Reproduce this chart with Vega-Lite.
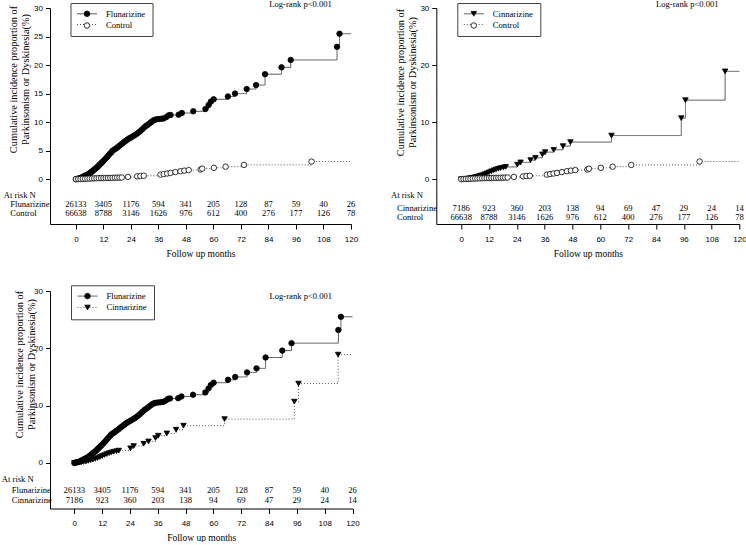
{
  "$schema": "https://vega.github.io/schema/vega-lite/v6.json",
  "background": "white",
  "padding": {"left": 1, "top": 0, "right": 0, "bottom": 0},
  "config": {
    "view": {"stroke": null},
    "axis": {
      "grid": false,
      "domainColor": "black",
      "tickColor": "black",
      "labelColor": "black",
      "titleColor": "black",
      "labelFont": "Liberation Sans",
      "labelFontSize": 8,
      "titleFont": "Liberation Serif",
      "titleFontWeight": "normal",
      "labelFlush": false,
      "labelOverlap": false,
      "domainWidth": 1,
      "tickWidth": 1
    },
    "axisX": {"tickSize": 5, "labelPadding": 6, "titleFontSize": 9.5, "titlePadding": 5},
    "axisY": {"tickSize": 4.5, "labelPadding": 3, "titleFontSize": 10.3, "titleLineHeight": 12, "titleBaseline": "middle", "titleAlign": "center", "titleAngle": -90}
  },
  "datasets": {
    "curves": [
      {"group": "Flunarizine", "month": 0, "value": 0},
      {"group": "Flunarizine", "month": 0.5, "value": 0.05},
      {"group": "Flunarizine", "month": 1, "value": 0.1},
      {"group": "Flunarizine", "month": 1.5, "value": 0.15},
      {"group": "Flunarizine", "month": 2, "value": 0.2},
      {"group": "Flunarizine", "month": 2.5, "value": 0.3},
      {"group": "Flunarizine", "month": 3, "value": 0.4},
      {"group": "Flunarizine", "month": 3.5, "value": 0.5},
      {"group": "Flunarizine", "month": 4, "value": 0.6},
      {"group": "Flunarizine", "month": 4.5, "value": 0.7},
      {"group": "Flunarizine", "month": 5, "value": 0.8},
      {"group": "Flunarizine", "month": 5.5, "value": 0.9},
      {"group": "Flunarizine", "month": 6, "value": 1.05},
      {"group": "Flunarizine", "month": 6.5, "value": 1.2},
      {"group": "Flunarizine", "month": 7, "value": 1.35},
      {"group": "Flunarizine", "month": 7.5, "value": 1.5},
      {"group": "Flunarizine", "month": 8, "value": 1.7},
      {"group": "Flunarizine", "month": 8.5, "value": 1.85},
      {"group": "Flunarizine", "month": 9, "value": 2.0},
      {"group": "Flunarizine", "month": 9.5, "value": 2.2},
      {"group": "Flunarizine", "month": 10, "value": 2.4},
      {"group": "Flunarizine", "month": 10.5, "value": 2.6},
      {"group": "Flunarizine", "month": 11, "value": 2.8},
      {"group": "Flunarizine", "month": 11.5, "value": 3.0},
      {"group": "Flunarizine", "month": 12, "value": 3.2},
      {"group": "Flunarizine", "month": 12.7, "value": 3.5},
      {"group": "Flunarizine", "month": 13.4, "value": 3.8},
      {"group": "Flunarizine", "month": 14, "value": 4.1},
      {"group": "Flunarizine", "month": 14.7, "value": 4.4},
      {"group": "Flunarizine", "month": 15.4, "value": 4.7},
      {"group": "Flunarizine", "month": 16, "value": 5.0},
      {"group": "Flunarizine", "month": 16.8, "value": 5.2},
      {"group": "Flunarizine", "month": 17.5, "value": 5.4},
      {"group": "Flunarizine", "month": 18.2, "value": 5.6},
      {"group": "Flunarizine", "month": 19, "value": 5.85},
      {"group": "Flunarizine", "month": 19.7, "value": 6.1},
      {"group": "Flunarizine", "month": 20.4, "value": 6.3},
      {"group": "Flunarizine", "month": 21.1, "value": 6.55},
      {"group": "Flunarizine", "month": 21.8, "value": 6.75},
      {"group": "Flunarizine", "month": 22.5, "value": 6.95},
      {"group": "Flunarizine", "month": 23.2, "value": 7.15},
      {"group": "Flunarizine", "month": 24, "value": 7.3},
      {"group": "Flunarizine", "month": 24.8, "value": 7.5},
      {"group": "Flunarizine", "month": 25.6, "value": 7.7},
      {"group": "Flunarizine", "month": 26.4, "value": 7.9},
      {"group": "Flunarizine", "month": 27.2, "value": 8.15},
      {"group": "Flunarizine", "month": 28, "value": 8.4},
      {"group": "Flunarizine", "month": 28.8, "value": 8.7},
      {"group": "Flunarizine", "month": 29.6, "value": 9.0},
      {"group": "Flunarizine", "month": 30.4, "value": 9.3},
      {"group": "Flunarizine", "month": 31.2, "value": 9.5},
      {"group": "Flunarizine", "month": 32, "value": 9.75},
      {"group": "Flunarizine", "month": 32.8, "value": 10.0},
      {"group": "Flunarizine", "month": 33.6, "value": 10.25},
      {"group": "Flunarizine", "month": 34.4, "value": 10.4},
      {"group": "Flunarizine", "month": 35.2, "value": 10.5},
      {"group": "Flunarizine", "month": 36.2, "value": 10.55},
      {"group": "Flunarizine", "month": 37.3, "value": 10.6},
      {"group": "Flunarizine", "month": 38.3, "value": 10.65},
      {"group": "Flunarizine", "month": 39.5, "value": 10.9},
      {"group": "Flunarizine", "month": 40.5, "value": 11.2},
      {"group": "Flunarizine", "month": 41.3, "value": 11.25},
      {"group": "Flunarizine", "month": 44.8, "value": 11.3},
      {"group": "Flunarizine", "month": 46.2, "value": 11.6},
      {"group": "Flunarizine", "month": 51.2, "value": 11.9},
      {"group": "Flunarizine", "month": 56.5, "value": 12.3},
      {"group": "Flunarizine", "month": 57.9, "value": 13.0},
      {"group": "Flunarizine", "month": 58.9, "value": 13.6},
      {"group": "Flunarizine", "month": 60.1, "value": 14.0},
      {"group": "Flunarizine", "month": 66.3, "value": 14.5},
      {"group": "Flunarizine", "month": 69.4, "value": 15.0},
      {"group": "Flunarizine", "month": 74.5, "value": 15.8},
      {"group": "Flunarizine", "month": 78.6, "value": 16.5},
      {"group": "Flunarizine", "month": 82.5, "value": 18.4},
      {"group": "Flunarizine", "month": 89.7, "value": 19.6},
      {"group": "Flunarizine", "month": 93.7, "value": 20.9},
      {"group": "Flunarizine", "month": 113.9, "value": 23.2},
      {"group": "Flunarizine", "month": 115, "value": 25.5},
      {"group": "Flunarizine", "month": 120, "value": 25.5},
      {"group": "Cinnarizine", "month": 0, "value": 0},
      {"group": "Cinnarizine", "month": 1, "value": 0.03},
      {"group": "Cinnarizine", "month": 2, "value": 0.07},
      {"group": "Cinnarizine", "month": 3, "value": 0.12},
      {"group": "Cinnarizine", "month": 4, "value": 0.18},
      {"group": "Cinnarizine", "month": 5, "value": 0.25},
      {"group": "Cinnarizine", "month": 6, "value": 0.35},
      {"group": "Cinnarizine", "month": 7, "value": 0.45},
      {"group": "Cinnarizine", "month": 8, "value": 0.57},
      {"group": "Cinnarizine", "month": 9, "value": 0.7},
      {"group": "Cinnarizine", "month": 10, "value": 0.85},
      {"group": "Cinnarizine", "month": 11, "value": 1.02},
      {"group": "Cinnarizine", "month": 12, "value": 1.2},
      {"group": "Cinnarizine", "month": 13, "value": 1.38},
      {"group": "Cinnarizine", "month": 14, "value": 1.55},
      {"group": "Cinnarizine", "month": 15, "value": 1.7},
      {"group": "Cinnarizine", "month": 16, "value": 1.82},
      {"group": "Cinnarizine", "month": 17, "value": 1.95},
      {"group": "Cinnarizine", "month": 18.2, "value": 2.05},
      {"group": "Cinnarizine", "month": 19.2, "value": 2.15},
      {"group": "Cinnarizine", "month": 24.2, "value": 2.55},
      {"group": "Cinnarizine", "month": 25.6, "value": 2.95},
      {"group": "Cinnarizine", "month": 29.9, "value": 3.35},
      {"group": "Cinnarizine", "month": 32.0, "value": 3.75},
      {"group": "Cinnarizine", "month": 35.0, "value": 4.35},
      {"group": "Cinnarizine", "month": 36.2, "value": 4.75},
      {"group": "Cinnarizine", "month": 39.9, "value": 5.15},
      {"group": "Cinnarizine", "month": 43.9, "value": 5.8},
      {"group": "Cinnarizine", "month": 47.1, "value": 6.5},
      {"group": "Cinnarizine", "month": 64.8, "value": 7.65},
      {"group": "Cinnarizine", "month": 94.9, "value": 10.7},
      {"group": "Cinnarizine", "month": 96.7, "value": 13.85},
      {"group": "Cinnarizine", "month": 113.8, "value": 18.9},
      {"group": "Cinnarizine", "month": 120, "value": 18.9},
      {"group": "Control", "month": 0, "value": 0},
      {"group": "Control", "month": 1, "value": 0.02},
      {"group": "Control", "month": 2, "value": 0.04},
      {"group": "Control", "month": 3, "value": 0.06},
      {"group": "Control", "month": 4, "value": 0.08},
      {"group": "Control", "month": 5, "value": 0.1},
      {"group": "Control", "month": 6, "value": 0.12},
      {"group": "Control", "month": 7, "value": 0.13},
      {"group": "Control", "month": 8, "value": 0.15},
      {"group": "Control", "month": 9, "value": 0.16},
      {"group": "Control", "month": 10, "value": 0.18},
      {"group": "Control", "month": 11, "value": 0.19},
      {"group": "Control", "month": 12, "value": 0.2},
      {"group": "Control", "month": 13, "value": 0.21},
      {"group": "Control", "month": 14, "value": 0.22},
      {"group": "Control", "month": 15, "value": 0.23},
      {"group": "Control", "month": 16, "value": 0.24},
      {"group": "Control", "month": 17, "value": 0.26},
      {"group": "Control", "month": 18, "value": 0.27},
      {"group": "Control", "month": 19, "value": 0.28},
      {"group": "Control", "month": 20, "value": 0.3},
      {"group": "Control", "month": 22.7, "value": 0.4},
      {"group": "Control", "month": 26.7, "value": 0.5},
      {"group": "Control", "month": 28.1, "value": 0.55},
      {"group": "Control", "month": 29.6, "value": 0.6},
      {"group": "Control", "month": 36.9, "value": 0.8},
      {"group": "Control", "month": 38.3, "value": 0.9},
      {"group": "Control", "month": 39.8, "value": 1.0},
      {"group": "Control", "month": 41.3, "value": 1.1},
      {"group": "Control", "month": 43.4, "value": 1.25},
      {"group": "Control", "month": 45.6, "value": 1.4},
      {"group": "Control", "month": 47.3, "value": 1.5},
      {"group": "Control", "month": 49.2, "value": 1.6},
      {"group": "Control", "month": 54.4, "value": 1.7},
      {"group": "Control", "month": 55.1, "value": 1.85},
      {"group": "Control", "month": 60.2, "value": 2.0},
      {"group": "Control", "month": 65.3, "value": 2.2},
      {"group": "Control", "month": 73.3, "value": 2.5},
      {"group": "Control", "month": 102.8, "value": 3.1},
      {"group": "Control", "month": 120, "value": 3.1}
    ],
    "atrisk": [
      {"group": "Flunarizine", "month": 0, "n": 26133},
      {"group": "Flunarizine", "month": 12, "n": 3405},
      {"group": "Flunarizine", "month": 24, "n": 1176},
      {"group": "Flunarizine", "month": 36, "n": 594},
      {"group": "Flunarizine", "month": 48, "n": 341},
      {"group": "Flunarizine", "month": 60, "n": 205},
      {"group": "Flunarizine", "month": 72, "n": 128},
      {"group": "Flunarizine", "month": 84, "n": 87},
      {"group": "Flunarizine", "month": 96, "n": 59},
      {"group": "Flunarizine", "month": 108, "n": 40},
      {"group": "Flunarizine", "month": 120, "n": 26},
      {"group": "Cinnarizine", "month": 0, "n": 7186},
      {"group": "Cinnarizine", "month": 12, "n": 923},
      {"group": "Cinnarizine", "month": 24, "n": 360},
      {"group": "Cinnarizine", "month": 36, "n": 203},
      {"group": "Cinnarizine", "month": 48, "n": 138},
      {"group": "Cinnarizine", "month": 60, "n": 94},
      {"group": "Cinnarizine", "month": 72, "n": 69},
      {"group": "Cinnarizine", "month": 84, "n": 47},
      {"group": "Cinnarizine", "month": 96, "n": 29},
      {"group": "Cinnarizine", "month": 108, "n": 24},
      {"group": "Cinnarizine", "month": 120, "n": 14},
      {"group": "Control", "month": 0, "n": 66638},
      {"group": "Control", "month": 12, "n": 8788},
      {"group": "Control", "month": 24, "n": 3146},
      {"group": "Control", "month": 36, "n": 1626},
      {"group": "Control", "month": 48, "n": 976},
      {"group": "Control", "month": 60, "n": 612},
      {"group": "Control", "month": 72, "n": 400},
      {"group": "Control", "month": 84, "n": 276},
      {"group": "Control", "month": 96, "n": 177},
      {"group": "Control", "month": 108, "n": 126},
      {"group": "Control", "month": 120, "n": 78}
    ]
  },
  "columns": 2,
  "align": "each",
  "bounds": "flush",
  "spacing": {"row": 67, "column": 83.3},
  "resolve": {
    "scale": {"shape": "independent", "fill": "independent", "stroke": "independent", "strokeDash": "independent"},
    "legend": {"shape": "independent", "fill": "independent", "stroke": "independent", "strokeDash": "independent"}
  },
  "concat": [
    {
      "width": 301,
      "height": 216,
      "layer": [
        {
          "data": {"name": "curves"},
          "transform": [{"filter": {"field": "group", "oneOf": ["Flunarizine", "Control"]}}],
          "mark": {"type": "line", "interpolate": "step-after", "stroke": "#555", "strokeWidth": 1},
          "encoding": {
            "x": {"field": "month", "type": "quantitative", "scale": {"domain": [-11.3, 120], "nice": false, "zero": false},
                  "axis": {"values": [0, 12, 24, 36, 48, 60, 72, 84, 96, 108, 120], "tickCount": 50, "labelOverlap": false, "title": "Follow up months"}},
            "y": {"field": "value", "type": "quantitative", "scale": {"domain": [-7.85, 30], "nice": false, "zero": false},
                  "axis": {"values": [0, 5, 10, 15, 20, 25, 30], "tickCount": 50, "labelOverlap": false, "title": ["Cumulative incidence proportion of", "Parkinsonism or Dyskinesia(%)"], "titleX": -37, "titleY": 71}},
            "strokeDash": {"field": "group", "type": "nominal", "sort": "descending", "scale": {"range": [[1, 0], [1, 2]]},
              "legend": {"title": null, "orient": "none", "legendX": 20.5, "legendY": -5, "padding": 6.5, "strokeColor": "#444", "symbolType": "M-4,0L4,0", "symbolSize": 25, "symbolStrokeWidth": 1, "symbolStrokeColor": "#555", "symbolOffset": 5.7, "labelOffset": 14.7, "labelFont": "Liberation Serif", "labelFontSize": 8.6, "labelColor": "black", "rowPadding": 1.7}}
          }
        },
        {
          "data": {"name": "curves"},
          "transform": [{"filter": {"field": "group", "oneOf": ["Flunarizine", "Control"]}}, {"filter": "datum.month < 120"}],
          "mark": {"type": "point", "filled": true, "strokeWidth": 0.8, "size": 30, "opacity": 1},
          "encoding": {
            "x": {"field": "month", "type": "quantitative"},
            "y": {"field": "value", "type": "quantitative"},
            "shape": {"field": "group", "type": "nominal", "scale": {"domain": ["Flunarizine", "Control"], "range": ["circle", "circle"]},
              "legend": {"title": null, "orient": "none", "legendX": 20.5, "legendY": -5, "padding": 6.5, "symbolSize": 30, "symbolStrokeWidth": 0.8, "symbolOffset": 5.7, "labelOffset": 14.7, "labelFont": "Liberation Serif", "labelFontSize": 8.6, "labelOpacity": 0, "rowPadding": 1.7}},
            "fill": {"field": "group", "type": "nominal", "scale": {"domain": ["Flunarizine", "Control"], "range": ["black", "white"]},
              "legend": {"title": null, "orient": "none", "legendX": 20.5, "legendY": -5, "padding": 6.5, "symbolSize": 30, "symbolStrokeWidth": 0.8, "symbolOffset": 5.7, "labelOffset": 14.7, "labelFont": "Liberation Serif", "labelFontSize": 8.6, "labelOpacity": 0, "rowPadding": 1.7}},
            "stroke": {"field": "group", "type": "nominal", "scale": {"domain": ["Flunarizine", "Control"], "range": ["black", "black"]},
              "legend": {"title": null, "orient": "none", "legendX": 20.5, "legendY": -5, "padding": 6.5, "symbolSize": 30, "symbolStrokeWidth": 0.8, "symbolOffset": 5.7, "labelOffset": 14.7, "labelFont": "Liberation Serif", "labelFontSize": 8.6, "labelOpacity": 0, "rowPadding": 1.7}}
          }
        },
        {
          "data": {"name": "atrisk"},
          "transform": [{"filter": {"field": "group", "equal": "Flunarizine"}}],
          "mark": {"type": "text", "font": "Liberation Serif", "fontSize": 8.6, "align": "center", "baseline": "middle", "color": "black"},
          "encoding": {"x": {"field": "month", "type": "quantitative"}, "y": {"datum": -4.33}, "text": {"field": "n", "type": "nominal"}}
        },
        {
          "data": {"name": "atrisk"},
          "transform": [{"filter": {"field": "group", "equal": "Control"}}],
          "mark": {"type": "text", "font": "Liberation Serif", "fontSize": 8.6, "align": "center", "baseline": "middle", "color": "black"},
          "encoding": {"x": {"field": "month", "type": "quantitative"}, "y": {"datum": -5.95}, "text": {"field": "n", "type": "nominal"}}
        },
        {
          "data": {"name": "atrisk"},
          "transform": [{"filter": {"and": [{"field": "group", "equal": "Flunarizine"}, {"field": "month", "equal": 0}]}}],
          "mark": {"type": "text", "font": "Liberation Serif", "fontSize": 8.6, "align": "left", "baseline": "middle", "color": "black"},
          "encoding": {"x": {"datum": -28.6}, "y": {"datum": -4.33}, "text": {"field": "group", "type": "nominal"}}
        },
        {
          "data": {"name": "atrisk"},
          "transform": [{"filter": {"and": [{"field": "group", "equal": "Control"}, {"field": "month", "equal": 0}]}}],
          "mark": {"type": "text", "font": "Liberation Serif", "fontSize": 8.6, "align": "left", "baseline": "middle", "color": "black"},
          "encoding": {"x": {"datum": -28.6}, "y": {"datum": -5.95}, "text": {"field": "group", "type": "nominal"}}
        },
        {
          "data": {"name": "atrisk"},
          "transform": [{"filter": {"and": [{"field": "group", "equal": "Flunarizine"}, {"field": "month", "equal": 0}]}}],
          "mark": {"type": "text", "font": "Liberation Serif", "fontSize": 8.6, "align": "left", "baseline": "middle", "color": "black"},
          "encoding": {"x": {"datum": -31.45}, "y": {"datum": -2.75}, "text": {"value": "At risk N"}}
        },
        {
          "data": {"name": "atrisk"},
          "transform": [{"filter": {"and": [{"field": "group", "equal": "Flunarizine"}, {"field": "month", "equal": 0}]}}],
          "mark": {"type": "text", "font": "Liberation Serif", "fontSize": 8.6, "align": "center", "baseline": "middle", "color": "black"},
          "encoding": {"x": {"datum": 98}, "y": {"datum": 30.7}, "text": {"value": "Log-rank p<0.001"}}
        }
      ]
    },
    {
      "width": 303.2,
      "height": 216,
      "layer": [
        {
          "data": {"name": "curves"},
          "transform": [{"filter": {"field": "group", "oneOf": ["Cinnarizine", "Control"]}}],
          "mark": {"type": "line", "interpolate": "step-after", "stroke": "#555", "strokeWidth": 1},
          "encoding": {
            "x": {"field": "month", "type": "quantitative", "scale": {"domain": [-10.74, 120], "nice": false, "zero": false},
                  "axis": {"values": [0, 12, 24, 36, 48, 60, 72, 84, 96, 108, 120], "tickCount": 50, "labelOverlap": false, "title": "Follow up months"}},
            "y": {"field": "value", "type": "quantitative", "scale": {"domain": [-7.85, 30], "nice": false, "zero": false},
                  "axis": {"values": [0, 10, 20, 30], "tickCount": 50, "labelOverlap": false, "title": ["Cumulative incidence proportion of", "Parkinsonism or Dyskinesia(%)"], "titleX": -36, "titleY": 74}},
            "strokeDash": {"field": "group", "type": "nominal", "sort": "ascending", "scale": {"range": [[1, 0], [1, 2]]},
              "legend": {"title": null, "orient": "none", "legendX": 21, "legendY": -5, "padding": 6.5, "strokeColor": "#444", "symbolType": "M-4,0L4,0", "symbolSize": 25, "symbolStrokeWidth": 1, "symbolStrokeColor": "#555", "symbolOffset": 5.7, "labelOffset": 14.7, "labelFont": "Liberation Serif", "labelFontSize": 8.6, "labelColor": "black", "rowPadding": 1.7}}
          }
        },
        {
          "data": {"name": "curves"},
          "transform": [{"filter": {"field": "group", "oneOf": ["Cinnarizine", "Control"]}}, {"filter": "datum.month < 120"}],
          "mark": {"type": "point", "filled": true, "strokeWidth": 0.8, "size": 30, "opacity": 1},
          "encoding": {
            "x": {"field": "month", "type": "quantitative"},
            "y": {"field": "value", "type": "quantitative"},
            "shape": {"field": "group", "type": "nominal", "scale": {"domain": ["Cinnarizine", "Control"], "range": ["triangle-down", "circle"]},
              "legend": {"title": null, "orient": "none", "legendX": 21, "legendY": -5, "padding": 6.5, "symbolSize": 30, "symbolStrokeWidth": 0.8, "symbolOffset": 5.7, "labelOffset": 14.7, "labelFont": "Liberation Serif", "labelFontSize": 8.6, "labelOpacity": 0, "rowPadding": 1.7}},
            "fill": {"field": "group", "type": "nominal", "scale": {"domain": ["Cinnarizine", "Control"], "range": ["black", "white"]},
              "legend": {"title": null, "orient": "none", "legendX": 21, "legendY": -5, "padding": 6.5, "symbolSize": 30, "symbolStrokeWidth": 0.8, "symbolOffset": 5.7, "labelOffset": 14.7, "labelFont": "Liberation Serif", "labelFontSize": 8.6, "labelOpacity": 0, "rowPadding": 1.7}},
            "stroke": {"field": "group", "type": "nominal", "scale": {"domain": ["Cinnarizine", "Control"], "range": ["black", "black"]},
              "legend": {"title": null, "orient": "none", "legendX": 21, "legendY": -5, "padding": 6.5, "symbolSize": 30, "symbolStrokeWidth": 0.8, "symbolOffset": 5.7, "labelOffset": 14.7, "labelFont": "Liberation Serif", "labelFontSize": 8.6, "labelOpacity": 0, "rowPadding": 1.7}}
          }
        },
        {
          "data": {"name": "atrisk"},
          "transform": [{"filter": {"field": "group", "equal": "Cinnarizine"}}],
          "mark": {"type": "text", "font": "Liberation Serif", "fontSize": 8.6, "align": "center", "baseline": "middle", "color": "black"},
          "encoding": {"x": {"field": "month", "type": "quantitative"}, "y": {"datum": -5.1}, "text": {"field": "n", "type": "nominal"}}
        },
        {
          "data": {"name": "atrisk"},
          "transform": [{"filter": {"field": "group", "equal": "Control"}}],
          "mark": {"type": "text", "font": "Liberation Serif", "fontSize": 8.6, "align": "center", "baseline": "middle", "color": "black"},
          "encoding": {"x": {"field": "month", "type": "quantitative"}, "y": {"datum": -6.65}, "text": {"field": "n", "type": "nominal"}}
        },
        {
          "data": {"name": "atrisk"},
          "transform": [{"filter": {"and": [{"field": "group", "equal": "Cinnarizine"}, {"field": "month", "equal": 0}]}}],
          "mark": {"type": "text", "font": "Liberation Serif", "fontSize": 8.6, "align": "left", "baseline": "middle", "color": "black"},
          "encoding": {"x": {"datum": -27.7}, "y": {"datum": -5.1}, "text": {"field": "group", "type": "nominal"}}
        },
        {
          "data": {"name": "atrisk"},
          "transform": [{"filter": {"and": [{"field": "group", "equal": "Control"}, {"field": "month", "equal": 0}]}}],
          "mark": {"type": "text", "font": "Liberation Serif", "fontSize": 8.6, "align": "left", "baseline": "middle", "color": "black"},
          "encoding": {"x": {"datum": -27.7}, "y": {"datum": -6.65}, "text": {"field": "group", "type": "nominal"}}
        },
        {
          "data": {"name": "atrisk"},
          "transform": [{"filter": {"and": [{"field": "group", "equal": "Cinnarizine"}, {"field": "month", "equal": 0}]}}],
          "mark": {"type": "text", "font": "Liberation Serif", "fontSize": 8.6, "align": "left", "baseline": "middle", "color": "black"},
          "encoding": {"x": {"datum": -30.3}, "y": {"datum": -2.75}, "text": {"value": "At risk N"}}
        },
        {
          "data": {"name": "atrisk"},
          "transform": [{"filter": {"and": [{"field": "group", "equal": "Cinnarizine"}, {"field": "month", "equal": 0}]}}],
          "mark": {"type": "text", "font": "Liberation Serif", "fontSize": 8.6, "align": "center", "baseline": "middle", "color": "black"},
          "encoding": {"x": {"datum": 97.5}, "y": {"datum": 30.7}, "text": {"value": "Log-rank p<0.001"}}
        }
      ]
    },
    {
      "width": 302.5,
      "height": 217.5,
      "layer": [
        {
          "data": {"name": "curves"},
          "transform": [{"filter": {"field": "group", "oneOf": ["Flunarizine", "Cinnarizine"]}}],
          "mark": {"type": "line", "interpolate": "step-after", "stroke": "#555", "strokeWidth": 1},
          "encoding": {
            "x": {"field": "month", "type": "quantitative", "scale": {"domain": [-10.5, 120], "nice": false, "zero": false},
                  "axis": {"values": [0, 12, 24, 36, 48, 60, 72, 84, 96, 108, 120], "tickCount": 50, "labelOverlap": false, "title": "Follow up months"}},
            "y": {"field": "value", "type": "quantitative", "scale": {"domain": [-7.95, 30], "nice": false, "zero": false},
                  "axis": {"values": [0, 10, 20, 30], "tickCount": 50, "labelOverlap": false, "title": ["Cumulative incidence proportion of", "Parkinsonism or Dyskinesia(%)"], "titleX": -30.5, "titleY": 73}},
            "strokeDash": {"field": "group", "type": "nominal", "sort": "descending", "scale": {"range": [[1, 0], [1, 2]]},
              "legend": {"title": null, "orient": "none", "legendX": 21, "legendY": -5.7, "padding": 6.5, "strokeColor": "#444", "symbolType": "M-4,0L4,0", "symbolSize": 25, "symbolStrokeWidth": 1, "symbolStrokeColor": "#555", "symbolOffset": 5.7, "labelOffset": 14.7, "labelFont": "Liberation Serif", "labelFontSize": 8.6, "labelColor": "black", "rowPadding": 2.4}}
          }
        },
        {
          "data": {"name": "curves"},
          "transform": [{"filter": {"field": "group", "oneOf": ["Flunarizine", "Cinnarizine"]}}, {"filter": "datum.month < 120"}],
          "mark": {"type": "point", "filled": true, "strokeWidth": 0.8, "size": 30, "opacity": 1},
          "encoding": {
            "x": {"field": "month", "type": "quantitative"},
            "y": {"field": "value", "type": "quantitative"},
            "shape": {"field": "group", "type": "nominal", "scale": {"domain": ["Flunarizine", "Cinnarizine"], "range": ["circle", "triangle-down"]},
              "legend": {"title": null, "orient": "none", "legendX": 21, "legendY": -5.7, "padding": 6.5, "symbolSize": 30, "symbolStrokeWidth": 0.8, "symbolOffset": 5.7, "labelOffset": 14.7, "labelFont": "Liberation Serif", "labelFontSize": 8.6, "labelOpacity": 0, "rowPadding": 2.4}},
            "fill": {"field": "group", "type": "nominal", "scale": {"domain": ["Flunarizine", "Cinnarizine"], "range": ["black", "black"]},
              "legend": {"title": null, "orient": "none", "legendX": 21, "legendY": -5.7, "padding": 6.5, "symbolSize": 30, "symbolStrokeWidth": 0.8, "symbolOffset": 5.7, "labelOffset": 14.7, "labelFont": "Liberation Serif", "labelFontSize": 8.6, "labelOpacity": 0, "rowPadding": 2.4}},
            "stroke": {"field": "group", "type": "nominal", "scale": {"domain": ["Flunarizine", "Cinnarizine"], "range": ["black", "black"]},
              "legend": {"title": null, "orient": "none", "legendX": 21, "legendY": -5.7, "padding": 6.5, "symbolSize": 30, "symbolStrokeWidth": 0.8, "symbolOffset": 5.7, "labelOffset": 14.7, "labelFont": "Liberation Serif", "labelFontSize": 8.6, "labelOpacity": 0, "rowPadding": 2.4}}
          }
        },
        {
          "data": {"name": "atrisk"},
          "transform": [{"filter": {"field": "group", "equal": "Flunarizine"}}],
          "mark": {"type": "text", "font": "Liberation Serif", "fontSize": 8.6, "align": "center", "baseline": "middle", "color": "black"},
          "encoding": {"x": {"field": "month", "type": "quantitative"}, "y": {"datum": -4.76}, "text": {"field": "n", "type": "nominal"}}
        },
        {
          "data": {"name": "atrisk"},
          "transform": [{"filter": {"field": "group", "equal": "Cinnarizine"}}],
          "mark": {"type": "text", "font": "Liberation Serif", "fontSize": 8.6, "align": "center", "baseline": "middle", "color": "black"},
          "encoding": {"x": {"field": "month", "type": "quantitative"}, "y": {"datum": -6.51}, "text": {"field": "n", "type": "nominal"}}
        },
        {
          "data": {"name": "atrisk"},
          "transform": [{"filter": {"and": [{"field": "group", "equal": "Flunarizine"}, {"field": "month", "equal": 0}]}}],
          "mark": {"type": "text", "font": "Liberation Serif", "fontSize": 8.6, "align": "left", "baseline": "middle", "color": "black"},
          "encoding": {"x": {"datum": -27}, "y": {"datum": -4.76}, "text": {"field": "group", "type": "nominal"}}
        },
        {
          "data": {"name": "atrisk"},
          "transform": [{"filter": {"and": [{"field": "group", "equal": "Cinnarizine"}, {"field": "month", "equal": 0}]}}],
          "mark": {"type": "text", "font": "Liberation Serif", "fontSize": 8.6, "align": "left", "baseline": "middle", "color": "black"},
          "encoding": {"x": {"datum": -27}, "y": {"datum": -6.51}, "text": {"field": "group", "type": "nominal"}}
        },
        {
          "data": {"name": "atrisk"},
          "transform": [{"filter": {"and": [{"field": "group", "equal": "Flunarizine"}, {"field": "month", "equal": 0}]}}],
          "mark": {"type": "text", "font": "Liberation Serif", "fontSize": 8.6, "align": "left", "baseline": "middle", "color": "black"},
          "encoding": {"x": {"datum": -31.3}, "y": {"datum": -2.72}, "text": {"value": "At risk N"}}
        },
        {
          "data": {"name": "atrisk"},
          "transform": [{"filter": {"and": [{"field": "group", "equal": "Flunarizine"}, {"field": "month", "equal": 0}]}}],
          "mark": {"type": "text", "font": "Liberation Serif", "fontSize": 8.6, "align": "center", "baseline": "middle", "color": "black"},
          "encoding": {"x": {"datum": 97.7}, "y": {"datum": 29.1}, "text": {"value": "Log-rank p<0.001"}}
        }
      ]
    }
  ]
}
